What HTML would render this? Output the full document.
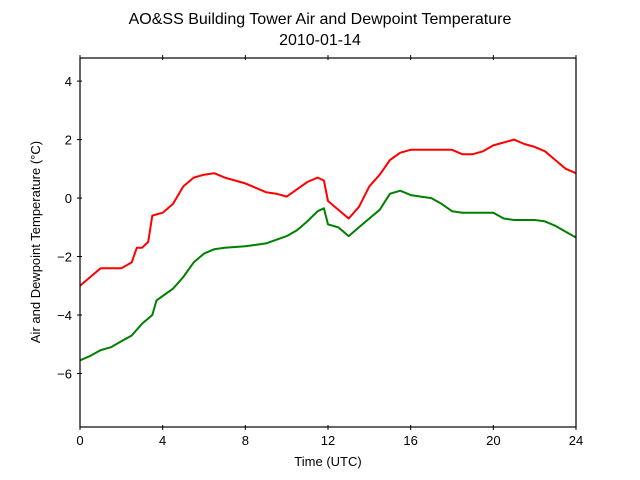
<!DOCTYPE html>
<html><head><meta charset="utf-8"><style>
html,body{margin:0;padding:0;background:#fff;}
svg{display:block;font-family:"Liberation Sans","DejaVu Sans",sans-serif;}
</style></head><body>
<svg id="chart" width="640" height="480" viewBox="0 0 640 480">
<rect width="640" height="480" fill="#fff"/>
<text x="320" y="24" text-anchor="middle" font-size="16">AO&amp;SS Building Tower Air and Dewpoint Temperature</text>
<text x="320" y="45" text-anchor="middle" font-size="16">2010-01-14</text>
<g id="ticks"></g>
<g id="series"></g>
<rect x="80" y="58" width="496" height="369" fill="none" stroke="#000" stroke-width="1.2"/>
<text x="328" y="466" text-anchor="middle" font-size="13">Time (UTC)</text>
<text transform="translate(40,242) rotate(-90)" text-anchor="middle" font-size="13">Air and Dewpoint Temperature (°C)</text>
</svg>
<script>
const hours = [0,0.5,1,1.5,2,2.5,2.75,3,3.3,3.5,4,4.5,5,5.5,6,6.5,7,7.5,8,8.5,9,9.5,10,10.5,11,11.5,11.8,12,12.5,13,13.5,14,14.5,15,15.5,16,17,18,18.5,19,19.5,20,20.5,21,21.5,22,22.5,23,23.5,24];
const airTemp = [-3.0,-2.7,-2.4,-2.4,-2.4,-2.2,-1.7,-1.7,-1.5,-0.6,-0.5,-0.2,0.4,0.7,0.8,0.85,0.7,0.6,0.5,0.35,0.2,0.15,0.05,0.3,0.55,0.7,0.6,-0.1,-0.4,-0.7,-0.3,0.4,0.8,1.3,1.55,1.65,1.65,1.65,1.5,1.5,1.6,1.8,1.9,2.0,1.85,1.75,1.6,1.3,1.0,0.85];
const dewHours = [0,0.5,1,1.5,2,2.5,3,3.5,3.7,4,4.5,5,5.5,6,6.5,7,8,9,10,10.5,11,11.5,11.8,12,12.5,13,13.5,14,14.5,15,15.5,16,17,17.5,18,18.5,19,19.5,20,20.5,21,22,22.5,23,23.5,24];
const dewTemp = [-5.55,-5.4,-5.2,-5.1,-4.9,-4.7,-4.3,-4.0,-3.5,-3.35,-3.1,-2.7,-2.2,-1.9,-1.75,-1.7,-1.65,-1.55,-1.3,-1.1,-0.8,-0.45,-0.35,-0.9,-1.0,-1.3,-1.0,-0.7,-0.4,0.15,0.25,0.1,0.0,-0.2,-0.45,-0.5,-0.5,-0.5,-0.5,-0.7,-0.75,-0.75,-0.8,-0.95,-1.15,-1.35];
const xTicks = [0,4,8,12,16,20,24];
const yTicks = [4,2,0,-2,-4,-6];

const NS="http://www.w3.org/2000/svg";
const X0=80,X1=576,Y0=58,Y1=427,XMIN=0,XMAX=24,YMIN=-7.83,YMAX=4.79;
function xs(v){return X0+(v-XMIN)/(XMAX-XMIN)*(X1-X0);}
function ys(v){return Y1-(v-YMIN)/(YMAX-YMIN)*(Y1-Y0);}
const tg=document.getElementById('ticks'), sg=document.getElementById('series');
function mk(t,a){const e=document.createElementNS(NS,t);for(const k in a)e.setAttribute(k,a[k]);return e;}
xTicks.forEach(v=>{
  const x=xs(v);
  const b=mk('line',{x1:x,x2:x,y1:Y1-2,y2:Y1+3,stroke:'#000'});
  
  
  tg.appendChild(b);
  const t=mk('line',{x1:x,x2:x,y1:Y0-3,y2:Y0+2,stroke:'#000'});
  
  
  tg.appendChild(t);
  const l=mk('text',{x:x,y:Y1+18,'text-anchor':'middle','font-size':13});
  l.textContent=v;
  
  
  tg.appendChild(l);
});
yTicks.forEach(v=>{
  const y=ys(v);
  const t=mk('line',{x1:X0-3,x2:X0+2,y1:y,y2:y,stroke:'#000'});
  
  
  tg.appendChild(t);
  const l=mk('text',{x:X0-8,y:y+5,'text-anchor':'end','font-size':13});
  l.textContent=v<0?'\u2212'+Math.abs(v):v;
  
  
  tg.appendChild(l);
});
function line(xv,yv,color,name){
  const d=xv.map((h,i)=>(i?'L':'M')+xs(h).toFixed(1)+','+ys(yv[i]).toFixed(1)).join('');
  const p=mk('path',{d:d,fill:'none',stroke:color,'stroke-width':2,'stroke-linejoin':'round'});
  
  
  sg.appendChild(p);
}
line(dewHours,dewTemp,'#008000','dewpoint-line');
line(hours,airTemp,'#ff0000','air-temperature-line');
</script>
</body></html>
